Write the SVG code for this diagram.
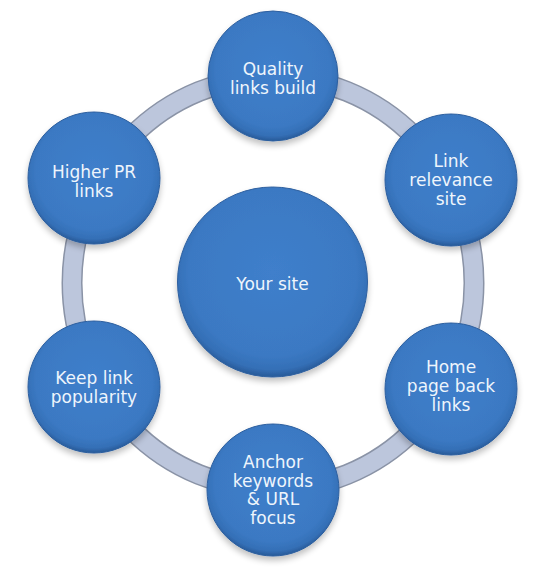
<svg xmlns="http://www.w3.org/2000/svg" width="548" height="569" viewBox="0 0 548 569">
<defs>
<radialGradient id="ballFill" cx="50%" cy="45%" r="55%">
<stop offset="0%" stop-color="#3f7fcb"/>
<stop offset="80%" stop-color="#3b79c3"/>
<stop offset="93%" stop-color="#346fb6"/>
<stop offset="100%" stop-color="#285a98"/>
</radialGradient>
<filter id="shadow" x="-20%" y="-20%" width="140%" height="150%">
<feGaussianBlur in="SourceAlpha" stdDeviation="3"/>
<feOffset dx="0" dy="4" result="b"/>
<feComponentTransfer><feFuncA type="linear" slope="0.25"/></feComponentTransfer>
<feMerge><feMergeNode/><feMergeNode in="SourceGraphic"/></feMerge>
</filter>
</defs>
<style>
.ball{fill:url(#ballFill);stroke:#2d5f9f;stroke-width:1;filter:url(#shadow)}
.lbl{font-family:"DejaVu Sans",Verdana,sans-serif;font-size:17px;fill:#eef5fc;text-anchor:middle}
.ringOuter{fill:none;stroke:#8a93a6;stroke-width:21}
.ringInner{fill:none;stroke:#bcc6dc;stroke-width:18}
</style>
<rect width="548" height="569" fill="#ffffff"/>
<g id="connectors">
<ellipse class="ringOuter" cx="273" cy="283" rx="201" ry="206"/>
<ellipse class="ringInner" cx="273" cy="283" rx="201" ry="206"/>
</g>
<g id="center">
<circle class="ball" cx="272.5" cy="282" r="95"/>
<text class="lbl" x="272.5" y="290">Your site</text>
</g>
<g id="quality">
<circle class="ball" cx="273" cy="76" r="65"/>
<text class="lbl" x="273" y="75">Quality</text>
<text class="lbl" x="273" y="93.5">links build</text>
</g>
<g id="relevance">
<circle class="ball" cx="451" cy="180" r="66"/>
<text class="lbl" x="451" y="167">Link</text>
<text class="lbl" x="451" y="186">relevance</text>
<text class="lbl" x="451" y="205">site</text>
</g>
<g id="homepage">
<circle class="ball" cx="451" cy="389" r="66"/>
<text class="lbl" x="451" y="373">Home</text>
<text class="lbl" x="451" y="392">page back</text>
<text class="lbl" x="451" y="411">links</text>
</g>
<g id="anchor">
<circle class="ball" cx="273" cy="490" r="66"/>
<text class="lbl" x="273" y="468">Anchor</text>
<text class="lbl" x="273" y="486.5">keywords</text>
<text class="lbl" x="273" y="505">&amp; URL</text>
<text class="lbl" x="273" y="523.5">focus</text>
</g>
<g id="popularity">
<circle class="ball" cx="94" cy="387" r="66"/>
<text class="lbl" x="94" y="384">Keep link</text>
<text class="lbl" x="94" y="402.5">popularity</text>
</g>
<g id="higherpr">
<circle class="ball" cx="94" cy="178" r="66"/>
<text class="lbl" x="94" y="178">Higher PR</text>
<text class="lbl" x="94" y="196.5">links</text>
</g>
</svg>
